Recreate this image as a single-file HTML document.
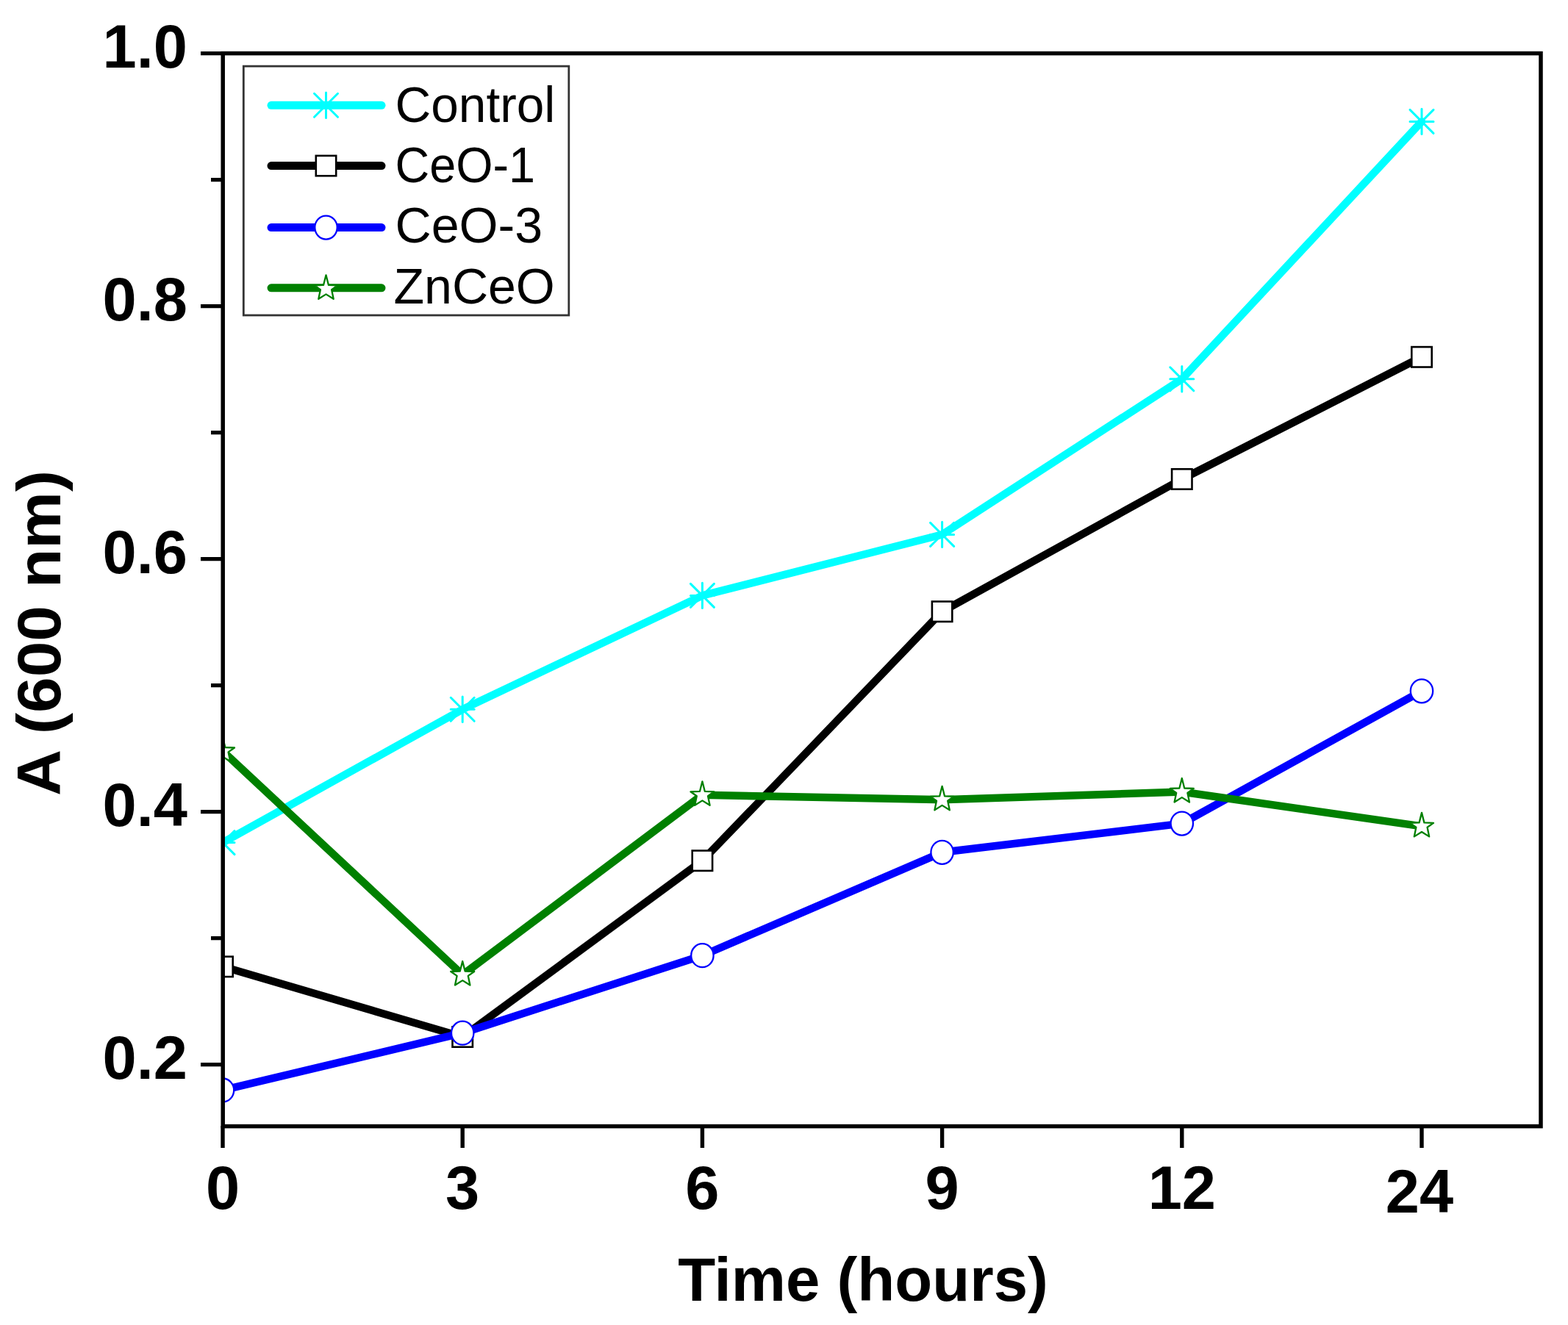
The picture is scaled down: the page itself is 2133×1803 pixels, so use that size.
<!DOCTYPE html>
<html><head><meta charset="utf-8"><title>Absorbance vs time</title>
<style>
html,body{margin:0;padding:0;background:#fff;}
body{width:2133px;height:1803px;overflow:hidden;}
svg{display:block;}
.b{font-family:"Liberation Sans",Arial,sans-serif;font-weight:bold;}
.r{font-family:"Liberation Sans",Arial,sans-serif;font-weight:normal;}
</style></head><body>
<svg width="2133" height="1803" viewBox="0 0 2133 1803">
<rect x="0" y="0" width="2133" height="1803" fill="#ffffff"/>
<defs><clipPath id="pa"><rect x="303" y="72" width="1793" height="1461"/></clipPath></defs>

<g clip-path="url(#pa)">
<polyline points="303.0,1146.6 629.2,965.3 955.4,810.4 1281.6,727.4 1607.8,515.8 1934.0,165.4" fill="none" stroke="#00ffff" stroke-width="10.5" stroke-linejoin="round" stroke-linecap="round"/>
<path d="M287.0 1146.6H319.0M303.0 1129.4V1163.8M287.0 1130.6L319.0 1162.6M287.0 1162.6L319.0 1130.6" stroke="#00ffff" stroke-width="3" stroke-linecap="round" fill="none"/>
<path d="M613.2 965.3H645.2M629.2 948.1V982.5M613.2 949.3L645.2 981.3M613.2 981.3L645.2 949.3" stroke="#00ffff" stroke-width="3" stroke-linecap="round" fill="none"/>
<path d="M939.4 810.4H971.4M955.4 793.2V827.6M939.4 794.4L971.4 826.4M939.4 826.4L971.4 794.4" stroke="#00ffff" stroke-width="3" stroke-linecap="round" fill="none"/>
<path d="M1265.6 727.4H1297.6M1281.6 710.2V744.6M1265.6 711.4L1297.6 743.4M1265.6 743.4L1297.6 711.4" stroke="#00ffff" stroke-width="3" stroke-linecap="round" fill="none"/>
<path d="M1591.8 515.8H1623.8M1607.8 498.6V533.0M1591.8 499.8L1623.8 531.8M1591.8 531.8L1623.8 499.8" stroke="#00ffff" stroke-width="3" stroke-linecap="round" fill="none"/>
<path d="M1918.0 165.4H1950.0M1934.0 148.2V182.6M1918.0 149.4L1950.0 181.4M1918.0 181.4L1950.0 149.4" stroke="#00ffff" stroke-width="3" stroke-linecap="round" fill="none"/>
<polyline points="303.0,1315.4 629.2,1411.0 955.4,1171.2 1281.6,832.2 1607.8,652.0 1934.0,485.8" fill="none" stroke="#000000" stroke-width="10.5" stroke-linejoin="round" stroke-linecap="round"/>
<rect x="289.3" y="1301.7" width="27.4" height="27.4" fill="#fff" stroke="#000" stroke-width="2.6"/>
<rect x="615.5" y="1397.3" width="27.4" height="27.4" fill="#fff" stroke="#000" stroke-width="2.6"/>
<rect x="941.7" y="1157.5" width="27.4" height="27.4" fill="#fff" stroke="#000" stroke-width="2.6"/>
<rect x="1267.9" y="818.5" width="27.4" height="27.4" fill="#fff" stroke="#000" stroke-width="2.6"/>
<rect x="1594.1" y="638.3" width="27.4" height="27.4" fill="#fff" stroke="#000" stroke-width="2.6"/>
<rect x="1920.3" y="472.1" width="27.4" height="27.4" fill="#fff" stroke="#000" stroke-width="2.6"/>
<polyline points="303.0,1483.5 629.2,1405.7 955.4,1300.2 1281.6,1159.8 1607.8,1120.6 1934.0,940.3" fill="none" stroke="#0000ff" stroke-width="10.5" stroke-linejoin="round" stroke-linecap="round"/>
<ellipse cx="303.0" cy="1483.5" rx="15.2" ry="16.0" fill="#fff" stroke="#0000ff" stroke-width="2.3"/>
<ellipse cx="629.2" cy="1405.7" rx="15.2" ry="16.0" fill="#fff" stroke="#0000ff" stroke-width="2.3"/>
<ellipse cx="955.4" cy="1300.2" rx="15.2" ry="16.0" fill="#fff" stroke="#0000ff" stroke-width="2.3"/>
<ellipse cx="1281.6" cy="1159.8" rx="15.2" ry="16.0" fill="#fff" stroke="#0000ff" stroke-width="2.3"/>
<ellipse cx="1607.8" cy="1120.6" rx="15.2" ry="16.0" fill="#fff" stroke="#0000ff" stroke-width="2.3"/>
<ellipse cx="1934.0" cy="940.3" rx="15.2" ry="16.0" fill="#fff" stroke="#0000ff" stroke-width="2.3"/>
<polyline points="303.0,1022.0 629.2,1326.5 955.4,1081.8 1281.6,1088.3 1607.8,1077.5 1934.0,1124.4" fill="none" stroke="#008000" stroke-width="10.5" stroke-linejoin="round" stroke-linecap="round"/>
<polygon points="303.0,1003.5 306.4,1017.0 319.0,1017.5 310.6,1023.4 313.2,1036.0 303.0,1029.6 292.8,1036.0 295.4,1023.4 287.0,1017.5 299.6,1017.0" fill="#fff" stroke="#008000" stroke-width="2.3" stroke-linejoin="round"/>
<polygon points="629.2,1308.0 632.6,1321.5 645.2,1322.0 636.8,1327.9 639.4,1340.5 629.2,1334.1 619.0,1340.5 621.6,1327.9 613.2,1322.0 625.8,1321.5" fill="#fff" stroke="#008000" stroke-width="2.3" stroke-linejoin="round"/>
<polygon points="955.4,1063.3 958.8,1076.8 971.4,1077.3 963.0,1083.2 965.6,1095.8 955.4,1089.4 945.2,1095.8 947.8,1083.2 939.4,1077.3 952.0,1076.8" fill="#fff" stroke="#008000" stroke-width="2.3" stroke-linejoin="round"/>
<polygon points="1281.6,1069.8 1285.0,1083.3 1297.6,1083.8 1289.2,1089.7 1291.8,1102.3 1281.6,1095.9 1271.4,1102.3 1274.0,1089.7 1265.6,1083.8 1278.2,1083.3" fill="#fff" stroke="#008000" stroke-width="2.3" stroke-linejoin="round"/>
<polygon points="1607.8,1059.0 1611.2,1072.5 1623.8,1073.0 1615.4,1078.9 1618.0,1091.5 1607.8,1085.1 1597.6,1091.5 1600.2,1078.9 1591.8,1073.0 1604.4,1072.5" fill="#fff" stroke="#008000" stroke-width="2.3" stroke-linejoin="round"/>
<polygon points="1934.0,1105.9 1937.4,1119.4 1950.0,1119.9 1941.6,1125.8 1944.2,1138.4 1934.0,1132.0 1923.8,1138.4 1926.4,1125.8 1918.0,1119.9 1930.6,1119.4" fill="#fff" stroke="#008000" stroke-width="2.3" stroke-linejoin="round"/>
</g>
<rect x="303.2" y="72.6" width="1792.8" height="1460" fill="none" stroke="#000" stroke-width="5.5"/>
<path d="M273 72.6H303 M273 416.6H303 M273 760.6H303 M273 1104.6H303 M273 1448.6H303 M287 244.6H303 M287 588.6H303 M287 932.6H303 M287 1276.6H303 M303.0 1532H303.0V1562 M629.2 1532H629.2V1562 M955.4 1532H955.4V1562 M1281.6 1532H1281.6V1562 M1607.8 1532H1607.8V1562 M1934.0 1532H1934.0V1562" stroke="#000" stroke-width="5.4" fill="none"/>
<text class="b" x="255" y="92.1" font-size="83" text-anchor="end">1.0</text>
<text class="b" x="255" y="436.1" font-size="83" text-anchor="end">0.8</text>
<text class="b" x="255" y="780.1" font-size="83" text-anchor="end">0.6</text>
<text class="b" x="255" y="1124.1" font-size="83" text-anchor="end">0.4</text>
<text class="b" x="255" y="1468.1" font-size="83" text-anchor="end">0.2</text>
<text class="b" x="303.0" y="1645" font-size="83" text-anchor="middle">0</text>
<text class="b" x="629.2" y="1645" font-size="83" text-anchor="middle">3</text>
<text class="b" x="955.4" y="1645" font-size="83" text-anchor="middle">6</text>
<text class="b" x="1281.6" y="1645" font-size="83" text-anchor="middle">9</text>
<text class="b" x="1607.8" y="1645" font-size="83" text-anchor="middle">12</text>
<text class="b" x="1931.0" y="1650" font-size="83" text-anchor="middle">24</text>
<text class="b" x="1174" y="1770" font-size="83" text-anchor="middle" textLength="503.7" lengthAdjust="spacingAndGlyphs">Time (hours)</text>
<text class="b" transform="translate(81.7 861.5) rotate(-90)" x="0" y="0" font-size="83" text-anchor="middle" textLength="443" lengthAdjust="spacingAndGlyphs">A (600 nm)</text>
<rect x="331.3" y="90.1" width="442.5" height="338.9" fill="#fff" stroke="#333" stroke-width="2.8"/>
<line x1="369" y1="143.3" x2="519" y2="143.3" stroke="#00ffff" stroke-width="11" stroke-linecap="round"/>
<path d="M427.5 143.3H459.5M443.5 126.1V160.5M427.5 127.3L459.5 159.3M427.5 159.3L459.5 127.3" stroke="#00ffff" stroke-width="3" stroke-linecap="round" fill="none"/>
<text class="r" x="537.5" y="165.6" font-size="68" textLength="217.7" lengthAdjust="spacingAndGlyphs">Control</text>
<line x1="369" y1="225.6" x2="519" y2="225.6" stroke="#000000" stroke-width="11" stroke-linecap="round"/>
<rect x="429.8" y="211.9" width="27.4" height="27.4" fill="#fff" stroke="#000" stroke-width="2.6"/>
<text class="r" x="537.5" y="247.8" font-size="68" textLength="190.5" lengthAdjust="spacingAndGlyphs">CeO-1</text>
<line x1="369" y1="309.6" x2="519" y2="309.6" stroke="#0000ff" stroke-width="11" stroke-linecap="round"/>
<ellipse cx="443.5" cy="309.6" rx="15.2" ry="16.0" fill="#fff" stroke="#0000ff" stroke-width="2.3"/>
<text class="r" x="537.5" y="330.4" font-size="68" textLength="200.6" lengthAdjust="spacingAndGlyphs">CeO-3</text>
<line x1="369" y1="391.8" x2="519" y2="391.8" stroke="#008000" stroke-width="11" stroke-linecap="round"/>
<polygon points="443.5,374.3 446.9,387.8 459.5,388.3 451.1,394.2 453.7,406.8 443.5,400.4 433.3,406.8 435.9,394.2 427.5,388.3 440.1,387.8" fill="#fff" stroke="#008000" stroke-width="2.3" stroke-linejoin="round"/>
<text class="r" x="535.5" y="413.3" font-size="68" textLength="219.3" lengthAdjust="spacingAndGlyphs">ZnCeO</text>
</svg>
</body></html>
